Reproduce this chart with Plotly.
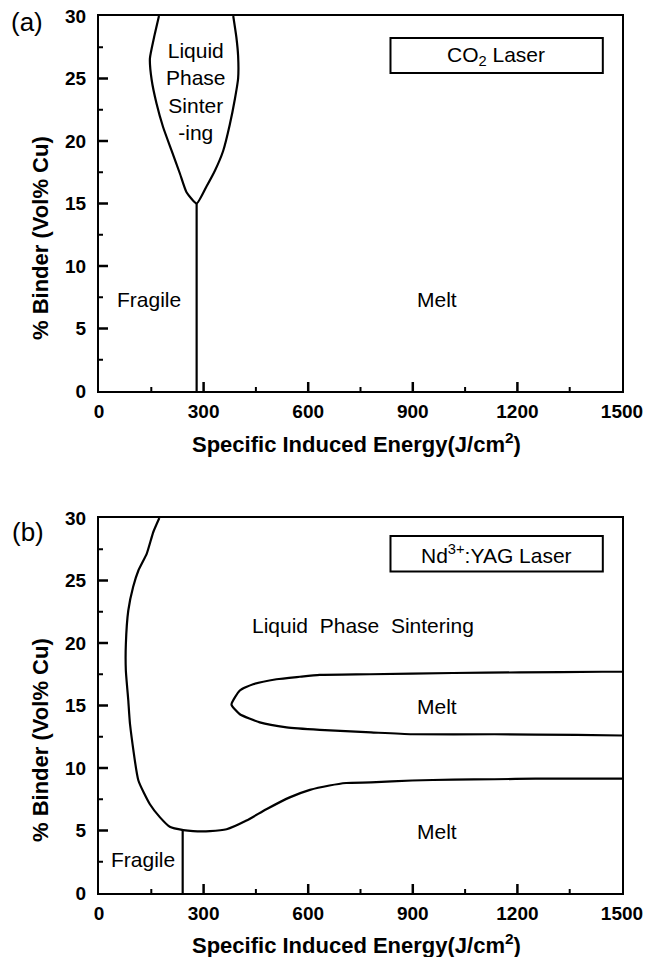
import plotly.graph_objects as go

# ---------------- data ----------------
# panel (a): CO2 laser
a_lps_E = [172, 158, 146, 151, 165, 184, 208, 232, 251, 280, 309, 332, 356, 375, 390, 399, 399, 394, 385]
a_lps_V = [30, 28.3, 26.6, 24.9, 23.0, 21.1, 19.25, 17.4, 15.9, 15.0, 16.4, 17.6, 19.2, 21.3, 23.4, 25.0, 26.8, 28.3, 30]
a_div_E = [280, 280]
a_div_V = [15, 0]

# panel (b): Nd:YAG laser
b_bound_E = [173, 156, 137, 113, 98, 84, 77, 77, 84, 89, 113, 146, 175, 203, 242, 270, 318, 366, 423, 480, 547, 605, 661, 709, 780, 898, 1016, 1134, 1252, 1500]
b_bound_V = [30, 28.9, 27.15, 25.8, 24.5, 22.6, 19.9, 17.8, 15.4, 13.5, 9.0, 7.1, 6.05, 5.3, 5.03, 4.95, 4.95, 5.1, 5.8, 6.7, 7.65, 8.25, 8.6, 8.8, 8.85, 9.0, 9.07, 9.1, 9.15, 9.15]
b_div_E = [240, 240]
b_div_V = [5.05, 0]
b_melt_E = [1500, 1444, 1206, 1015, 777, 633, 576, 509, 442, 404, 380, 404, 461, 538, 633, 780, 898, 1134, 1370, 1500]
b_melt_V = [17.7, 17.7, 17.65, 17.6, 17.5, 17.45, 17.3, 17.1, 16.7, 16.2, 15.07, 14.3, 13.65, 13.25, 13.05, 12.85, 12.7, 12.7, 12.65, 12.6]

x_ticks = [0, 300, 600, 900, 1200, 1500]
y_ticks = [0, 5, 10, 15, 20, 25, 30]

# ---------------- layout helpers ----------------
W, H = 646, 957
ML, MR, MT, MB = 99, 24, 16, 64
PW, PH = W - ML - MR, H - MT - MB


def px_x(p):
    return (p - ML) / PW


def px_y(p):
    return (H - MB - p) / PH


top_dom = [px_y(391), 1.0]
bot_dom = [0.0, px_y(518)]

FONT = "Liberation Sans, Arial, sans-serif"
line_style = dict(color="black", width=2.2, shape="spline", smoothing=0.5)

fig = go.Figure()

# panel (a)
fig.add_trace(go.Scatter(x=a_lps_E, y=a_lps_V, mode="lines", line=line_style, xaxis="x", yaxis="y", showlegend=False))
fig.add_trace(go.Scatter(x=a_div_E, y=a_div_V, mode="lines", line=dict(color="black", width=2.2), xaxis="x", yaxis="y", showlegend=False))
# panel (b)
fig.add_trace(go.Scatter(x=b_bound_E, y=b_bound_V, mode="lines", line=line_style, xaxis="x2", yaxis="y2", showlegend=False))
fig.add_trace(go.Scatter(x=b_div_E, y=b_div_V, mode="lines", line=dict(color="black", width=2.2), xaxis="x2", yaxis="y2", showlegend=False))
fig.add_trace(go.Scatter(x=b_melt_E, y=b_melt_V, mode="lines", line=line_style, xaxis="x2", yaxis="y2", showlegend=False))

x_step = x_ticks[1] - x_ticks[0]
y_step = y_ticks[1] - y_ticks[0]
xr = [x_ticks[0], x_ticks[-1]]
yr = [y_ticks[0], y_ticks[-1]]

# main axes: frame + labels
xax = dict(range=xr, tickmode="array", tickvals=x_ticks, ticktext=[str(v) for v in x_ticks], ticks="", ticklabelstandoff=2,
           showline=True, linecolor="black", linewidth=2, mirror=True, showgrid=False, zeroline=False,
           tickfont=dict(family=FONT, size=19, color="black", weight="bold"), automargin=False)
yax = dict(range=yr, tickmode="array", tickvals=y_ticks, ticktext=[str(v) for v in y_ticks], ticks="", ticklabelstandoff=7,
           showline=True, linecolor="black", linewidth=2, mirror=True, showgrid=False, zeroline=False,
           tickfont=dict(family=FONT, size=19, color="black", weight="bold"), automargin=False)

fig.update_layout(
    width=W, height=H,
    margin=dict(l=ML, r=MR, t=MT, b=MB),
    paper_bgcolor="white", plot_bgcolor="white",
    xaxis=dict(xax, domain=[0, 1], anchor="y"),
    yaxis=dict(yax, domain=top_dom, anchor="x"),
    xaxis2=dict(xax, domain=[0, 1], anchor="y2"),
    yaxis2=dict(yax, domain=bot_dom, anchor="x2"),
)

# inward tick marks (major + minor), sized in pixels, anchored on the axes
shapes = []
x_minor = [x_ticks[i] + x_step / 2 for i in range(len(x_ticks) - 1)]
y_minor = [y_ticks[i] + y_step / 2 for i in range(len(y_ticks) - 1)]
for xr_, yr_ in (("x", "y"), ("x2", "y2")):
    for vals, ln, wd in ((x_ticks[1:-1], 9, 2.5), (x_minor, 4, 2)):
        for v in vals:
            shapes.append(dict(type="line", xref=xr_, yref=yr_, x0=v, x1=v, ysizemode="pixel", yanchor=yr[0],
                               y0=0, y1=ln, line=dict(color="black", width=wd), layer="above"))
    for vals, ln, wd in ((y_ticks[1:-1], 9, 2.5), (y_minor, 4, 2)):
        for v in vals:
            shapes.append(dict(type="line", xref=xr_, yref=yr_, y0=v, y1=v, xsizemode="pixel", xanchor=xr[0],
                               x0=0, x1=ln, line=dict(color="black", width=wd), layer="above"))

# laser legend boxes
shapes.append(dict(type="rect", xref="x", yref="y", x0=836, x1=1445, y0=25.44, y1=28.24, line=dict(color="black", width=2)))
shapes.append(dict(type="rect", xref="x2", yref="y2", x0=836, x1=1445, y0=25.73, y1=28.56, line=dict(color="black", width=2)))
fig.update_layout(shapes=shapes)

ann = []
txt = dict(family=FONT, size=21, color="black")
# panel (a) region labels
ann.append(dict(x=278, y=23.94, xref="x", yref="y", text="Liquid<br>Phase<br>Sinter<br>-ing", showarrow=False, font=txt))
ann.append(dict(x=144, y=7.3, xref="x", yref="y", text="Fragile", showarrow=False, font=txt))
ann.append(dict(x=970, y=7.3, xref="x", yref="y", text="Melt", showarrow=False, font=txt))
ann.append(dict(x=1140, y=26.84, xref="x", yref="y", text="CO<sub>2</sub> Laser", showarrow=False, font=txt))
# panel (b) region labels
ann.append(dict(x=758, y=21.4, xref="x2", yref="y2", text="Liquid\u00a0 Phase\u00a0 Sintering", showarrow=False, font=txt))
ann.append(dict(x=970, y=14.9, xref="x2", yref="y2", text="Melt", showarrow=False, font=txt))
ann.append(dict(x=970, y=4.95, xref="x2", yref="y2", text="Melt", showarrow=False, font=txt))
ann.append(dict(x=126, y=2.65, xref="x2", yref="y2", text="Fragile", showarrow=False, font=txt))
ann.append(dict(x=1140, y=27.15, xref="x2", yref="y2", text="Nd<sup>3+</sup>:YAG Laser", showarrow=False, font=txt))

# axis titles
title_x = dict(family=FONT, size=22, color="black", weight="bold")
title_y = dict(family=FONT, size=22, color="black", weight="bold")
for yc in (443, 944):
    ann.append(dict(x=px_x(356), y=px_y(yc), xref="paper", yref="paper", text="Specific Induced Energy(J/cm<sup>2</sup>)",
                    showarrow=False, font=title_x, xanchor="center", yanchor="middle"))
for yc in (238, 740):
    ann.append(dict(x=px_x(40), y=px_y(yc), xref="paper", yref="paper", text="% Binder (Vol% Cu)", textangle=-90,
                    showarrow=False, font=title_y, xanchor="center", yanchor="middle"))
# panel labels
for lab, xc, yc in (("(a)", 27, 22), ("(b)", 28, 532)):
    ann.append(dict(x=px_x(xc), y=px_y(yc), xref="paper", yref="paper", text=lab, showarrow=False,
                    font=dict(family=FONT, size=26, color="black"), xanchor="center", yanchor="middle"))

fig.update_layout(annotations=ann)

fig.write_html("out.html")
